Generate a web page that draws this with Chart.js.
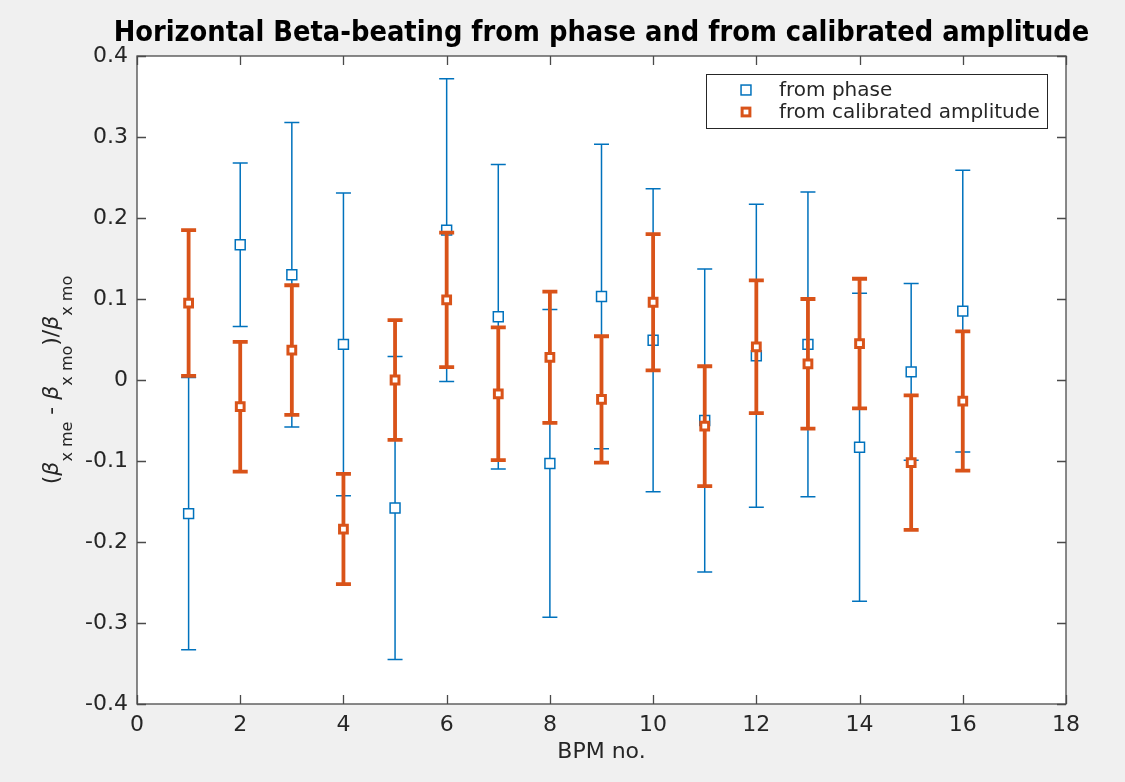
<!DOCTYPE html>
<html>
<head>
<meta charset="utf-8">
<script src="https://cdn.jsdelivr.net/npm/chart.js@4.4.1/dist/chart.umd.min.js"></script>
<style>
  html, body { margin: 0; padding: 0; background: #f0f0f0; }
  #wrap { width: 1125px; height: 782px; }
</style>
</head>
<body>
<div id="wrap"><canvas id="chart" width="1125" height="782"></canvas></div>
<script>
// data
const bpm = [1, 2, 3, 4, 5, 6, 7, 8, 9, 10, 11, 12, 13, 14, 15, 16];
const phaseVal = [-0.165, 0.167, 0.130, 0.044, -0.158, 0.185, 0.078, -0.103, 0.103, 0.049, -0.050, 0.030, 0.044, -0.083, 0.010, 0.085];
const phaseErr = [0.168, 0.101, 0.188, 0.187, 0.187, 0.187, 0.188, 0.190, 0.188, 0.187, 0.187, 0.187, 0.188, 0.190, 0.109, 0.174];
const ampVal = [0.095, -0.033, 0.037, -0.184, 0.000, 0.099, -0.017, 0.028, -0.024, 0.096, -0.057, 0.041, 0.020, 0.045, -0.102, -0.026];
const ampErr = [0.090, 0.080, 0.080, 0.068, 0.074, 0.083, 0.082, 0.081, 0.078, 0.084, 0.074, 0.082, 0.080, 0.080, 0.083, 0.086];

const seriesNames = ['from phase', 'from calibrated amplitude'];
const titleText = 'Horizontal Beta-beating from phase and from calibrated amplitude';
const xTitle = 'BPM no.';
// y label pieces: [text, isSubscript, isGreek]
const yLabelParts = [['(', 0, 0], ['β', 0, 1], ['x me', 1, 0], [' - ', 0, 0], ['β', 0, 1], ['x mo', 1, 0], [')/', 0, 0], ['β', 0, 1], ['x mo', 1, 0]];

const xTicks = { min: 0, max: 18, step: 2 };
const yTicks = { min: -0.4, max: 0.4, step: 0.1 };

const BLUE = '#0072BD';
const ORANGE = '#D95319';
const AXIS = '#4a4a4a';
const FONT = '"DejaVu Sans", sans-serif';

// fond gris + zone blanche
const background = {
  id: 'background',
  beforeDraw(chart) {
    const { ctx, chartArea: a } = chart;
    ctx.save();
    ctx.fillStyle = '#f0f0f0';
    ctx.fillRect(0, 0, chart.width, chart.height);
    ctx.fillStyle = '#ffffff';
    ctx.fillRect(a.left, a.top, a.right - a.left, a.bottom - a.top);
    ctx.restore();
  }
};

// barres d'erreur, dessinées juste avant les marqueurs de chaque série
const errorBars = {
  id: 'errorBars',
  beforeDatasetDraw(chart, args) {
    const ds = chart.data.datasets[args.index];
    const sx = chart.scales.x, sy = chart.scales.y;
    const ctx = chart.ctx;
    const cap = 7.5;
    ctx.save();
    ctx.strokeStyle = ds.borderColor;
    ctx.lineWidth = ds.barWidth;
    ds.data.forEach((p, i) => {
      const x = sx.getPixelForValue(p.x);
      const yTop = sy.getPixelForValue(p.y + ds.errors[i]);
      const yBot = sy.getPixelForValue(p.y - ds.errors[i]);
      ctx.beginPath();
      ctx.moveTo(x, yTop); ctx.lineTo(x, yBot);
      ctx.moveTo(x - cap, yTop); ctx.lineTo(x + cap, yTop);
      ctx.moveTo(x - cap, yBot); ctx.lineTo(x + cap, yBot);
      ctx.stroke();
    });
    ctx.restore();
  }
};

// cadre type matlab, ticks vers l'intérieur sur les 4 côtés, légende, titres
const frame = {
  id: 'frame',
  afterDatasetsDraw(chart) {
    const { ctx, chartArea: a } = chart;
    const sx = chart.scales.x, sy = chart.scales.y;
    const tl = 9;
    ctx.save();
    ctx.strokeStyle = AXIS;
    ctx.lineWidth = 1.3;
    ctx.beginPath();
    sx.ticks.forEach(t => {
      const x = Math.round(sx.getPixelForValue(t.value)) + 0.5;
      ctx.moveTo(x, a.bottom); ctx.lineTo(x, a.bottom - tl);
      ctx.moveTo(x, a.top); ctx.lineTo(x, a.top + tl);
    });
    sy.ticks.forEach(t => {
      const y = Math.round(sy.getPixelForValue(t.value)) + 0.5;
      ctx.moveTo(a.left, y); ctx.lineTo(a.left + tl, y);
      ctx.moveTo(a.right, y); ctx.lineTo(a.right - tl, y);
    });
    ctx.stroke();
    ctx.strokeRect(a.left, a.top, a.right - a.left, a.bottom - a.top);

    // légende
    const lx = 706.5, ly = 74.5, lw = 341, lh = 54;
    ctx.fillStyle = '#ffffff';
    ctx.fillRect(lx, ly, lw, lh);
    ctx.strokeStyle = '#262626';
    ctx.lineWidth = 1;
    ctx.strokeRect(lx, ly, lw, lh);
    const rows = [90, 112];
    chart.data.datasets.slice().sort((p, q) => q.order - p.order).forEach((ds, i) => {
      const y = rows[i];
      const s = ds.pointRadius * Math.SQRT1_2;
      ctx.fillStyle = '#ffffff';
      ctx.strokeStyle = ds.borderColor;
      ctx.lineWidth = ds.borderWidth;
      ctx.fillRect(746 - s, y - s, 2 * s, 2 * s);
      ctx.strokeRect(746 - s, y - s, 2 * s, 2 * s);
      ctx.fillStyle = '#262626';
      ctx.font = '20px ' + FONT;
      ctx.textBaseline = 'alphabetic';
      ctx.textAlign = 'left';
      ctx.fillText(ds.label, 779, y + 6);
    });
    ctx.restore();
  },
  afterDraw(chart) {
    const ctx = chart.ctx;
    const a = chart.chartArea;

    // titre, plus large que la zone du graphe
    ctx.save();
    ctx.fillStyle = '#000000';
    ctx.font = 'bold 28.7px "DejaVu Sans Condensed", ' + FONT;
    ctx.textAlign = 'center';
    ctx.textBaseline = 'middle';
    ctx.fillText(titleText, (a.left + a.right) / 2, 34);
    ctx.restore();

    // label y avec indices
    const mainFont = '22px ' + FONT;
    const greekFont = 'italic 22px ' + FONT;
    const subFont = '16px ' + FONT;
    ctx.save();
    ctx.fillStyle = '#262626';
    const fontOf = p => p[1] ? subFont : (p[2] ? greekFont : mainFont);
    let total = 0;
    const widths = yLabelParts.map(p => { ctx.font = fontOf(p); const w = ctx.measureText(p[0]).width; total += w; return w; });
    ctx.translate(58, (a.top + a.bottom) / 2);
    ctx.rotate(-Math.PI / 2);
    ctx.textBaseline = 'alphabetic';
    ctx.textAlign = 'left';
    let x = -total / 2;
    yLabelParts.forEach((p, i) => {
      ctx.font = fontOf(p);
      ctx.fillText(p[0], x, p[1] ? 14 : 0);
      x += widths[i];
    });
    ctx.restore();
  }
};

const toPoints = (xs, ys) => xs.map((x, i) => ({ x: x, y: ys[i] }));

new Chart(document.getElementById('chart'), {
  type: 'scatter',
  data: {
    datasets: [
      {
        label: seriesNames[0],
        data: toPoints(bpm, phaseVal),
        errors: phaseErr,
        barWidth: 1.5,
        order: 2,
        pointStyle: 'rect',
        pointRadius: 7,
        pointHoverRadius: 7,
        borderWidth: 1.5,
        borderColor: BLUE,
        backgroundColor: '#ffffff',
        showLine: false
      },
      {
        label: seriesNames[1],
        data: toPoints(bpm, ampVal),
        errors: ampErr,
        barWidth: 3.8,
        order: 1,
        pointStyle: 'rect',
        pointRadius: 5.5,
        pointHoverRadius: 5.5,
        borderWidth: 3,
        borderColor: ORANGE,
        backgroundColor: '#ffffff',
        showLine: false
      }
    ]
  },
  options: {
    responsive: false,
    animation: false,
    devicePixelRatio: 1,
    layout: { padding: { left: 0, right: 59, top: 56, bottom: 0 } },
    plugins: {
      legend: { display: false },
      tooltip: { enabled: false },
      title: { display: false }
    },
    scales: {
      x: {
        type: 'linear',
        min: xTicks.min,
        max: xTicks.max,
        afterFit: s => { s.height = 78; },
        grid: { display: false, drawTicks: false },
        border: { display: false },
        ticks: { stepSize: xTicks.step, color: '#262626', font: { family: FONT, size: 22 }, padding: 8 },
        title: { display: true, text: xTitle, color: '#262626', font: { family: FONT, size: 22 }, padding: { top: 0, bottom: 17 } }
      },
      y: {
        type: 'linear',
        min: yTicks.min,
        max: yTicks.max,
        afterFit: s => { s.width = 137; },
        grid: { display: false, drawTicks: false },
        border: { display: false },
        ticks: {
          stepSize: yTicks.step,
          color: '#262626',
          font: { family: FONT, size: 22 },
          padding: 9,
          callback: v => String(Number(v.toFixed(1)))
        }
      }
    }
  },
  plugins: [background, errorBars, frame]
});
</script>
</body>
</html>
